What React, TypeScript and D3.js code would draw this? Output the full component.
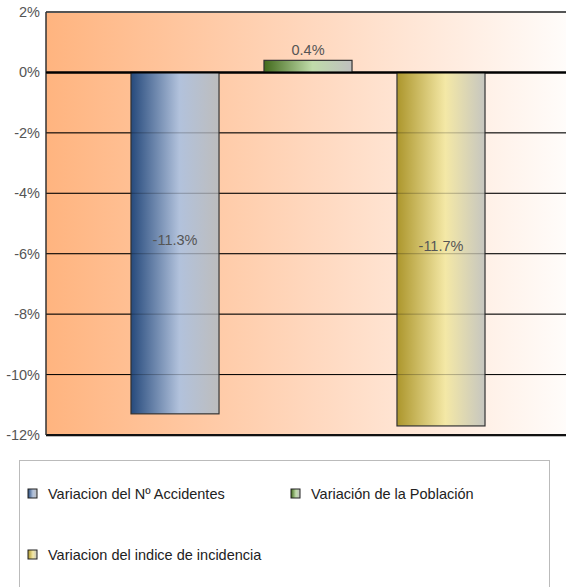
import React from "react";
import * as d3 from "d3";

const series = ["Variacion del Nº Accidentes", "Variación de la Población", "Variacion del indice de incidencia"];
const values = [-11.3, 0.4, -11.7];
const labels = ["-11.3%", "0.4%", "-11.7%"];
const yTicks = [2, 0, -2, -4, -6, -8, -10, -12];
const gradStops = [
  ["#264a7c", "#b2c2dc", "#bdbdbd"],
  ["#426a1c", "#c0dcaa", "#bfbfbf"],
  ["#ac962c", "#f4e8a6", "#c6c6c0"],
];

const W = 566, H = 587;
const left = 46, right = 570, top = 12, bottom = 435;

export default function App() {
  const y = d3.scaleLinear().domain([-12, 2]).range([bottom, top]);
  const x = d3.scaleBand<string>().domain(series).range([left, right]).paddingInner(0.338).paddingOuter(0.639);
  const font = "'Liberation Sans', Arial, sans-serif";
  const legendPos = [
    { mx: 28, ty: 494 },
    { mx: 291, ty: 494 },
    { mx: 28, ty: 555 },
  ];
  return (
    <svg width={W} height={H} style={{ position: "absolute", left: 0, top: 0 }} fontFamily={font}>
      <defs>
        <linearGradient id="bg" x1="0" x2="1" y1="0" y2="0">
          <stop offset="0" stopColor="#ffb47f" />
          <stop offset="0.5" stopColor="#ffd7bd" />
          <stop offset="1" stopColor="#fffcfa" />
        </linearGradient>
        {gradStops.map((s, i) => (
          <linearGradient key={i} id={`g${i}`} x1="0" x2="1" y1="0" y2="0">
            <stop offset="0" stopColor={s[0]} />
            <stop offset="0.55" stopColor={s[1]} />
            <stop offset="1" stopColor={s[2]} />
          </linearGradient>
        ))}
      </defs>
      <rect x={left} y={top} width={W - left} height={bottom - top} fill="url(#bg)" />
      {yTicks.map((t) => (
        <line key={t} x1={left} x2={W} y1={y(t)} y2={y(t)} stroke="#000" strokeWidth={t === 0 ? 2 : 1} />
      ))}
      <line x1={left} x2={W} y1={top} y2={top} stroke="#555" strokeWidth={2} />
      <line x1={left} x2={W} y1={bottom + 1.5} y2={bottom + 1.5} stroke="#bbb" strokeWidth={1} />
      <line x1={left} x2={W} y1={bottom} y2={bottom} stroke="#111" strokeWidth={2} />
      <line x1={left} x2={left} y1={top} y2={bottom} stroke="#333" strokeWidth={1.5} />
      {yTicks.map((t) => (
        <text key={t} x={40} y={y(t) + 5} textAnchor="end" fontSize={14.5} fill="#555">{`${t}%`}</text>
      ))}
      {series.map((s, i) => {
        const v = values[i];
        const y0 = y(0), y1 = y(v);
        return (
          <rect key={s} x={x(s)!} y={Math.min(y0, y1)} width={x.bandwidth()} height={Math.abs(y1 - y0)}
            fill={`url(#g${i})`} stroke="#333" strokeWidth={1.2} />
        );
      })}
      {yTicks.filter((t) => t < 0 && t > -12).map((t) => (
        <line key={`o${t}`} x1={left} x2={W} y1={y(t)} y2={y(t)} stroke="#000" strokeOpacity={0.25} strokeWidth={1} />
      ))}
      <line x1={left} x2={W} y1={y(0)} y2={y(0)} stroke="#000" strokeWidth={2} />
      {series.map((s, i) => {
        const v = values[i];
        const cx = x(s)! + x.bandwidth() / 2;
        const ty = v < 0 ? (y(0) + y(v)) / 2 + 2 : y(v) - 5;
        return (
          <text key={s} x={cx} y={ty} textAnchor="middle" fontSize={14.5} fill="#555">{labels[i]}</text>
        );
      })}
      <rect x={19.5} y={460.5} width={530} height={140} fill="#fff" stroke="#bbb" strokeWidth={1} />
      {series.map((s, i) => (
        <g key={s}>
          <rect x={legendPos[i].mx} y={legendPos[i].ty - 5} width={9} height={9} fill={`url(#g${i})`} stroke="#222" strokeWidth={1} />
          <text x={legendPos[i].mx + 20} y={legendPos[i].ty + 5} fontSize={14.5} fill="#222">{s}</text>
        </g>
      ))}
    </svg>
  );
}
